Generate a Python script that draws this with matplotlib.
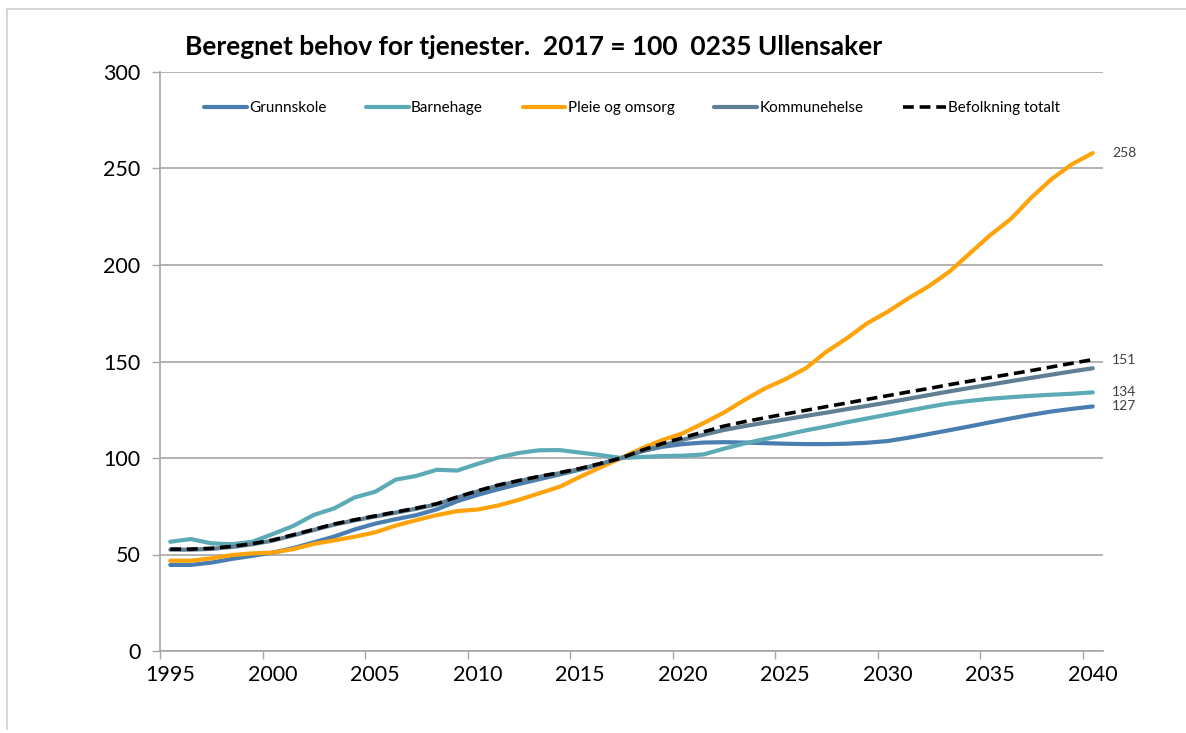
import matplotlib
matplotlib.use('Agg')
import matplotlib.pyplot as plt
from matplotlib.lines import Line2D
import numpy as np

plt.rcParams['font.family'] = ['Lato', 'DejaVu Sans']

years = np.arange(1995, 2041)

grunnskole = [44.6, 44.6, 45.8, 47.7, 49.3, 51.0, 53.3, 56.3, 59.3, 63.0,
              66.0, 68.3, 70.4, 73.4, 77.6, 80.9, 83.8, 86.5, 89.0, 91.5,
              94.0, 96.8, 100.0, 103.5, 105.8, 107.2, 108.0, 108.2, 108.0, 107.7,
              107.4, 107.2, 107.2, 107.4, 107.9, 108.8, 110.5, 112.4, 114.4, 116.4,
              118.5, 120.5, 122.4, 124.1, 125.5, 126.7]

barnehage = [56.6, 58.0, 55.8, 55.3, 56.6, 60.6, 64.8, 70.5, 73.9, 79.6,
             82.5, 88.8, 90.7, 93.9, 93.5, 97.0, 100.2, 102.6, 104.0, 104.1,
             102.8, 101.5, 100.0, 100.5, 101.0, 101.2, 101.8, 104.8, 107.5, 109.8,
             112.0, 114.3, 116.3, 118.5, 120.5, 122.5, 124.5, 126.5, 128.3, 129.6,
             130.7, 131.5, 132.2, 132.8, 133.3, 134.0]

pleie = [46.8, 46.8, 48.0, 49.7, 50.6, 51.0, 52.8, 55.5, 57.3, 59.2,
         61.5, 65.0, 67.8, 70.4, 72.5, 73.3, 75.4, 78.3, 81.7, 85.1,
         90.3, 95.2, 100.0, 105.0, 109.3, 112.8, 118.0, 123.5, 130.0, 136.0,
         140.8, 146.5, 155.0, 162.0, 169.8, 175.8, 182.7, 189.0, 196.5, 206.0,
         215.5, 223.8, 234.9, 244.6, 252.3, 258.0]

kommunehelse = [52.5, 52.5, 52.9, 53.9, 55.3, 57.2, 59.9, 62.7, 65.5, 67.7,
                69.7, 71.7, 73.7, 76.0, 79.5, 82.7, 85.7, 88.0, 90.2, 92.1,
                94.3, 97.0, 100.0, 103.5, 106.5, 109.5, 112.0, 114.5, 116.5, 118.3,
                120.0, 121.8, 123.5, 125.3, 127.0, 128.8, 130.7, 132.6, 134.5, 136.3,
                138.0, 139.8, 141.5, 143.2, 144.9, 146.5]

befolkning = [52.8, 52.8, 53.2, 54.2, 55.6, 57.5, 60.2, 63.0, 65.8, 68.0,
              70.0, 72.0, 74.0, 76.3, 79.8, 83.0, 86.0, 88.3, 90.5, 92.4,
              94.6, 97.2, 100.0, 104.0, 107.5, 110.5, 113.5, 116.5, 118.8, 120.8,
              122.8, 124.7, 126.6, 128.5, 130.4, 132.3, 134.2, 136.0, 138.0, 139.8,
              141.7, 143.5, 145.3, 147.2, 149.1, 151.0]

series = [
    ('Grunnskole', grunnskole, '#4A7EB0', '-'),
    ('Barnehage', barnehage, '#5BAAB6', '-'),
    ('Pleie og omsorg', pleie, '#FFA30A', '-'),
    ('Kommunehelse', kommunehelse, '#5F7F92', '-'),
    ('Befolkning totalt', befolkning, '#000000', '--'),
]

# labels at line ends
end_labels = [pleie, befolkning, barnehage, grunnskole]

fig = plt.figure(figsize=(11.86, 7.33), dpi=100)
ax = fig.add_axes([160 / 1186, 82 / 733, 943 / 1186, 579 / 733])

for name, vals, color, ls in series:
    if ls == '--':
        ax.plot(years, vals, color=color, linestyle=(0, (3, 1.6)), linewidth=2.6,
                label=name, zorder=5)
    else:
        ax.plot(years, vals, color=color, linewidth=3.0, label=name,
                solid_capstyle='round', zorder=3)

for vals in end_labels:
    ax.annotate(f'{vals[-1]:.0f}', xy=(years[-1], vals[-1]), xytext=(14, 0),
                textcoords='offset points', va='center', ha='left',
                fontsize=10, color='#404040')

ax.set_xlim(1994.5, 2040.5)
ax.set_ylim(0, 300)
ax.set_yticks(np.arange(0, 301, 50))
ax.yaxis.grid(True, color='#A6A6A6', linewidth=1.2)
ax.set_axisbelow(True)

# ticks between categories, labels centred under the years
ax.set_xticks(np.arange(1994.5, 2041, 5))
ax.set_xticklabels([])
ax.set_xticks(np.arange(1995, 2041, 5), minor=True)
ax.set_xticklabels([str(y) for y in range(1995, 2041, 5)], minor=True)
ax.tick_params(axis='x', which='major', length=6, width=1, color='#A6A6A6',
               direction='out')
ax.tick_params(axis='x', which='minor', length=0, pad=10, labelsize=15.5,
               labelcolor='#000000')
ax.tick_params(axis='y', length=6, width=1, color='#A6A6A6', direction='out',
               labelsize=15.5, pad=8)

for s in ['top', 'right']:
    ax.spines[s].set_visible(False)
for s in ['left', 'bottom']:
    ax.spines[s].set_color('#A6A6A6')
    ax.spines[s].set_linewidth(1.2)

ax.legend(loc='center left', bbox_to_anchor=(0.04, 0.938), ncol=5, frameon=False,
          fontsize=11, handlelength=2.8, handletextpad=0.15, columnspacing=2.6,
          borderaxespad=0)

fig.text(185 / 1186, 1 - 47 / 733, 'Beregnet behov for tjenester.  2017 = 100  0235 Ullensaker',
         fontsize=19, fontweight='bold', va='center', ha='left')

# light frame on top and left
fig.add_artist(Line2D([7 / 1186, 1], [1 - 9 / 733, 1 - 9 / 733], color='#D0D0D0',
                      linewidth=1.2, transform=fig.transFigure))
fig.add_artist(Line2D([7 / 1186, 7 / 1186], [0.005, 1 - 9 / 733], color='#D0D0D0',
                      linewidth=1.2, transform=fig.transFigure))

fig.savefig('out.png', dpi=100)
